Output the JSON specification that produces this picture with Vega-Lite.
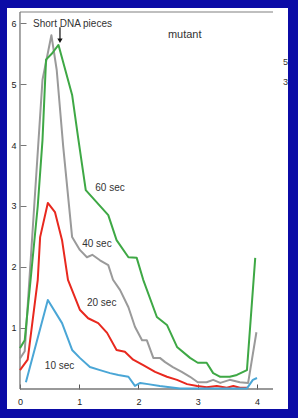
{
  "$schema": "https://vega.github.io/schema/vega-lite/v6.json",
  "width": 281,
  "height": 401,
  "autosize": {"type": "none"},
  "padding": {"left": 7, "top": 8, "right": 10, "bottom": 9},
  "background": "#0b0ba6",
  "config": {"view": {"fill": "white", "stroke": null}, "font": "Liberation Sans"},
  "datasets": {
    "curves": [
      {"s": "40 sec", "x": 0.0, "y": 0.5}, {"s": "40 sec", "x": 0.08, "y": 0.62}, {"s": "40 sec", "x": 0.38, "y": 5.07}, {"s": "40 sec", "x": 0.53, "y": 5.8}, {"s": "40 sec", "x": 0.62, "y": 5.23}, {"s": "40 sec", "x": 0.73, "y": 3.97}, {"s": "40 sec", "x": 0.88, "y": 2.49}, {"s": "40 sec", "x": 1.01, "y": 2.28}, {"s": "40 sec", "x": 1.13, "y": 2.16}, {"s": "40 sec", "x": 1.22, "y": 2.2}, {"s": "40 sec", "x": 1.35, "y": 2.11}, {"s": "40 sec", "x": 1.49, "y": 2.03}, {"s": "40 sec", "x": 1.57, "y": 1.79}, {"s": "40 sec", "x": 1.69, "y": 1.62}, {"s": "40 sec", "x": 1.83, "y": 1.34}, {"s": "40 sec", "x": 1.94, "y": 1.02}, {"s": "40 sec", "x": 2.06, "y": 0.8}, {"s": "40 sec", "x": 2.14, "y": 0.8}, {"s": "40 sec", "x": 2.25, "y": 0.51}, {"s": "40 sec", "x": 2.36, "y": 0.51}, {"s": "40 sec", "x": 2.45, "y": 0.44}, {"s": "40 sec", "x": 2.58, "y": 0.36}, {"s": "40 sec", "x": 2.73, "y": 0.28}, {"s": "40 sec", "x": 2.87, "y": 0.2}, {"s": "40 sec", "x": 3.0, "y": 0.11}, {"s": "40 sec", "x": 3.15, "y": 0.11}, {"s": "40 sec", "x": 3.26, "y": 0.15}, {"s": "40 sec", "x": 3.38, "y": 0.1}, {"s": "40 sec", "x": 3.54, "y": 0.15}, {"s": "40 sec", "x": 3.71, "y": 0.11}, {"s": "40 sec", "x": 3.85, "y": 0.1}, {"s": "40 sec", "x": 3.99, "y": 0.93},
      {"s": "60 sec", "x": 0.0, "y": 0.67}, {"s": "60 sec", "x": 0.08, "y": 0.8}, {"s": "60 sec", "x": 0.2, "y": 2.0}, {"s": "60 sec", "x": 0.3, "y": 3.0}, {"s": "60 sec", "x": 0.38, "y": 4.08}, {"s": "60 sec", "x": 0.44, "y": 5.4}, {"s": "60 sec", "x": 0.54, "y": 5.5}, {"s": "60 sec", "x": 0.65, "y": 5.64}, {"s": "60 sec", "x": 0.88, "y": 4.82}, {"s": "60 sec", "x": 0.98, "y": 4.13}, {"s": "60 sec", "x": 1.11, "y": 3.26}, {"s": "60 sec", "x": 1.49, "y": 2.85}, {"s": "60 sec", "x": 1.63, "y": 2.44}, {"s": "60 sec", "x": 1.83, "y": 2.16}, {"s": "60 sec", "x": 1.97, "y": 2.15}, {"s": "60 sec", "x": 2.08, "y": 1.79}, {"s": "60 sec", "x": 2.31, "y": 1.18}, {"s": "60 sec", "x": 2.48, "y": 1.05}, {"s": "60 sec", "x": 2.65, "y": 0.69}, {"s": "60 sec", "x": 2.87, "y": 0.51}, {"s": "60 sec", "x": 3.0, "y": 0.43}, {"s": "60 sec", "x": 3.15, "y": 0.43}, {"s": "60 sec", "x": 3.26, "y": 0.26}, {"s": "60 sec", "x": 3.38, "y": 0.2}, {"s": "60 sec", "x": 3.54, "y": 0.2}, {"s": "60 sec", "x": 3.66, "y": 0.23}, {"s": "60 sec", "x": 3.83, "y": 0.31}, {"s": "60 sec", "x": 3.97, "y": 2.15},
      {"s": "20 sec", "x": 0.0, "y": 0.31}, {"s": "20 sec", "x": 0.13, "y": 0.48}, {"s": "20 sec", "x": 0.3, "y": 1.79}, {"s": "20 sec", "x": 0.34, "y": 2.49}, {"s": "20 sec", "x": 0.47, "y": 3.05}, {"s": "20 sec", "x": 0.59, "y": 2.9}, {"s": "20 sec", "x": 0.71, "y": 2.44}, {"s": "20 sec", "x": 0.81, "y": 1.79}, {"s": "20 sec", "x": 1.01, "y": 1.3}, {"s": "20 sec", "x": 1.15, "y": 1.16}, {"s": "20 sec", "x": 1.32, "y": 1.08}, {"s": "20 sec", "x": 1.47, "y": 0.92}, {"s": "20 sec", "x": 1.63, "y": 0.64}, {"s": "20 sec", "x": 1.77, "y": 0.61}, {"s": "20 sec", "x": 1.91, "y": 0.48}, {"s": "20 sec", "x": 2.08, "y": 0.39}, {"s": "20 sec", "x": 2.28, "y": 0.28}, {"s": "20 sec", "x": 2.48, "y": 0.2}, {"s": "20 sec", "x": 2.65, "y": 0.15}, {"s": "20 sec", "x": 2.82, "y": 0.08}, {"s": "20 sec", "x": 2.99, "y": 0.05}, {"s": "20 sec", "x": 3.15, "y": 0.03}, {"s": "20 sec", "x": 3.32, "y": 0.05}, {"s": "20 sec", "x": 3.49, "y": 0.02}, {"s": "20 sec", "x": 3.6, "y": 0.05}, {"s": "20 sec", "x": 3.71, "y": 0.02}, {"s": "20 sec", "x": 3.85, "y": 0.02},
      {"s": "10 sec", "x": 0.1, "y": 0.11}, {"s": "10 sec", "x": 0.47, "y": 1.46}, {"s": "10 sec", "x": 0.71, "y": 1.08}, {"s": "10 sec", "x": 0.88, "y": 0.64}, {"s": "10 sec", "x": 1.01, "y": 0.51}, {"s": "10 sec", "x": 1.18, "y": 0.36}, {"s": "10 sec", "x": 1.35, "y": 0.31}, {"s": "10 sec", "x": 1.52, "y": 0.26}, {"s": "10 sec", "x": 1.66, "y": 0.23}, {"s": "10 sec", "x": 1.83, "y": 0.2}, {"s": "10 sec", "x": 1.94, "y": 0.05}, {"s": "10 sec", "x": 2.03, "y": 0.1}, {"s": "10 sec", "x": 2.16, "y": 0.08}, {"s": "10 sec", "x": 2.36, "y": 0.05}, {"s": "10 sec", "x": 2.53, "y": 0.03}, {"s": "10 sec", "x": 2.7, "y": 0.01}, {"s": "10 sec", "x": 3.0, "y": 0.01}, {"s": "10 sec", "x": 3.5, "y": 0.01}, {"s": "10 sec", "x": 3.83, "y": 0.01}, {"s": "10 sec", "x": 3.93, "y": 0.15}, {"s": "10 sec", "x": 4.0, "y": 0.18}
    ],
    "frame": [
      {"name": "yaxis", "x": 0, "x2": 0, "y": 0, "y2": 6.18},
      {"name": "xaxis", "x": 0, "x2": 4.27, "y": 0, "y2": 0}
    ],
    "top": [
      {"x": 0, "x2": 4.27, "y": 6.18, "y2": 6.18}
    ],
    "sec": [
      {"x": 1.27, "y": 3.3, "t": "60 sec"},
      {"x": 1.05, "y": 2.38, "t": "40 sec"},
      {"x": 1.13, "y": 1.41, "t": "20 sec"},
      {"x": 0.42, "y": 0.38, "t": "10 sec"}
    ]
  },
  "layer": [
    {
      "data": {"name": "top"},
      "mark": {"type": "rule", "color": "#aaaaaa", "strokeWidth": 1.5},
      "encoding": {
        "x": {"field": "x", "type": "quantitative", "scale": {"domain": [-0.219, 4.523], "nice": false, "zero": false},
          "axis": {"values": [0, 1, 2, 3, 4], "format": "d", "offset": -20, "domain": false, "grid": false, "tickSize": -5, "tickWidth": 1, "tickColor": "#555555", "labelPadding": 13, "labelFontSize": 9, "labelColor": "#222222", "title": null}},
        "x2": {"field": "x2"},
        "y": {"field": "y", "type": "quantitative", "scale": {"domain": [-0.328, 6.246], "nice": false, "zero": false},
          "axis": {"values": [1, 2, 3, 4, 5, 6], "format": "d", "offset": -13, "domain": false, "grid": false, "tickSize": -6, "tickWidth": 1, "tickColor": "#777777", "labelPadding": 10, "labelFontSize": 9, "labelColor": "#222222", "title": null}},
        "y2": {"field": "y2"}
      }
    },
    {
      "data": {"name": "frame"},
      "mark": {"type": "rule", "color": "#777777", "strokeWidth": 1.3},
      "encoding": {
        "x": {"field": "x", "type": "quantitative"},
        "x2": {"field": "x2"},
        "y": {"field": "y", "type": "quantitative"},
        "y2": {"field": "y2"}
      }
    },
    {
      "data": {"name": "curves"},
      "mark": {"type": "line", "strokeWidth": 2, "strokeJoin": "round"},
      "encoding": {
        "x": {"field": "x", "type": "quantitative"},
        "y": {"field": "y", "type": "quantitative"},
        "color": {"field": "s", "type": "nominal", "legend": null,
          "scale": {"domain": ["40 sec", "60 sec", "20 sec", "10 sec"], "range": ["#9a9a9a", "#3ea845", "#e8281e", "#4aa6d6"]}}
      }
    },
    {
      "data": {"name": "sec"},
      "mark": {"type": "text", "align": "left", "baseline": "middle", "fontSize": 10, "color": "#333333"},
      "encoding": {
        "x": {"field": "x", "type": "quantitative"},
        "y": {"field": "y", "type": "quantitative"},
        "text": {"field": "t"}
      }
    },
    {
      "data": {"values": [{"x": 0.22, "y": 5.98, "t": "Short DNA pieces"}]},
      "mark": {"type": "text", "align": "left", "baseline": "middle", "fontSize": 10, "color": "#333333"},
      "encoding": {
        "x": {"field": "x", "type": "quantitative"},
        "y": {"field": "y", "type": "quantitative"},
        "text": {"field": "t"}
      }
    },
    {
      "data": {"values": [{"x": 2.78, "y": 5.8, "t": "mutant"}]},
      "mark": {"type": "text", "align": "center", "baseline": "middle", "fontSize": 11, "color": "#333333"},
      "encoding": {
        "x": {"field": "x", "type": "quantitative"},
        "y": {"field": "y", "type": "quantitative"},
        "text": {"field": "t"}
      }
    },
    {
      "data": {"values": [{"x": 4.44, "y": 5.36, "t": "5'"}, {"x": 4.44, "y": 5.03, "t": "3'"}]},
      "mark": {"type": "text", "align": "left", "baseline": "middle", "fontSize": 9, "color": "#333333", "clip": true},
      "encoding": {
        "x": {"field": "x", "type": "quantitative"},
        "y": {"field": "y", "type": "quantitative"},
        "text": {"field": "t"}
      }
    },
    {
      "data": {"values": [{"x": 0.675, "y": 5.93, "y2": 5.72}]},
      "mark": {"type": "rule", "color": "#111111", "strokeWidth": 1.2},
      "encoding": {
        "x": {"field": "x", "type": "quantitative"},
        "y": {"field": "y", "type": "quantitative"},
        "y2": {"field": "y2"}
      }
    },
    {
      "data": {"values": [{"x": 0.675, "y": 5.71}]},
      "mark": {"type": "point", "shape": "triangle-down", "filled": true, "color": "#111111", "size": 28, "opacity": 1},
      "encoding": {
        "x": {"field": "x", "type": "quantitative"},
        "y": {"field": "y", "type": "quantitative"}
      }
    }
  ]
}
